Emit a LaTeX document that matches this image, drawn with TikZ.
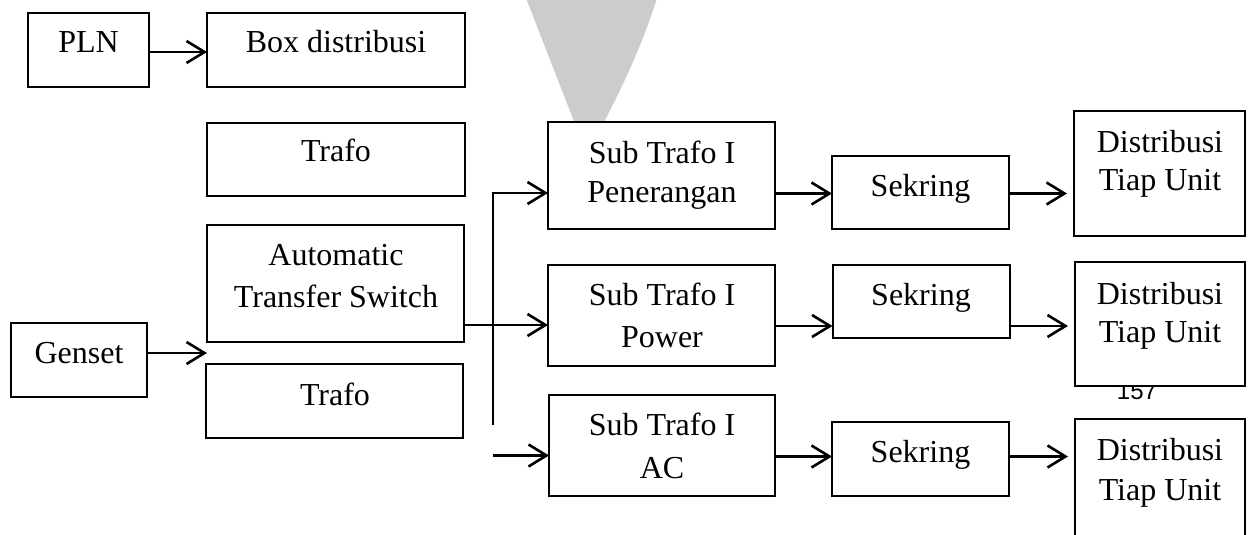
\documentclass[tikz,border=0pt]{standalone}
\usepackage{fontspec}
\setmainfont{Liberation Serif}
\newfontfamily\pagenumfont{Liberation Sans}
\usetikzlibrary{arrows.meta}

\begin{document}
\begin{tikzpicture}[x=0.5pt,y=-0.5pt,
  box/.style={draw, line width=1pt, fill=white, inner sep=0pt, outer sep=0pt},
  lbl/.style={inner sep=0pt, anchor=base, font=\fontsize{16pt}{19pt}\selectfont},
  arr/.style={line width=1.3pt, -{Straight Barb[length=9pt,width=11pt]}},
  gaparr/.style={arr, shorten >=3.5pt}]
\useasboundingbox (0,0) rectangle (1248,535);
\clip (0,0) rectangle (1248,535);

% light grey funnel in the background
\fill[gray!40] (526,-2) -- (657,-2) .. controls (644,40) and (625,82) .. (603,124)
  -- (575,124) -- cycle;

% page number, partly hidden behind the box above it
\node[inner sep=0pt, anchor=base, font=\pagenumfont\fontsize{12pt}{14pt}\selectfont] (pg) at (1137,399) {157};

% boxes
\node[box, minimum width=60.5pt, minimum height=37pt] (pln) at (88.5,50) {};
\node[box, minimum width=129pt, minimum height=37pt] (boxd) at (336,50) {};
\node[box, minimum width=129pt, minimum height=36.5pt] (trafoA) at (336,159.5) {};
\node[box, minimum width=128.5pt, minimum height=58.5pt] (ats) at (335.5,283.5) {};
\node[box, minimum width=128.5pt, minimum height=37pt] (trafoB) at (334.5,401) {};
\node[box, minimum width=68pt, minimum height=37pt] (genset) at (79,360) {};
\node[box, minimum width=113.5pt, minimum height=53.5pt] (subp) at (661.5,175.5) {};
\node[box, minimum width=113.5pt, minimum height=50.5pt] (subpow) at (661.5,315.5) {};
\node[box, minimum width=113pt, minimum height=50.5pt] (subac) at (662,445.5) {};
\node[box, minimum width=88.5pt, minimum height=36.5pt] (sek1) at (920.5,192.5) {};
\node[box, minimum width=88.5pt, minimum height=36.5pt] (sek2) at (921,301.5) {};
\node[box, minimum width=88.5pt, minimum height=37pt] (sek3) at (920.5,459) {};
\node[box, minimum width=85.5pt, minimum height=62.5pt] (dist1) at (1159.5,173.5) {};
\node[box, minimum width=85pt, minimum height=62pt] (dist2) at (1160,324) {};
\node[box, minimum width=85pt, minimum height=62.5pt] (dist3) at (1160,481.5) {};

% labels
\node[lbl] (plnT) at (88.5,53) {PLN};
\node[lbl] (boxdT) at (336,53) {Box distribusi};
\node[lbl] (trafoAT) at (336,162) {Trafo};
\node[lbl] (atsT1) at (336,265) {Automatic};
\node[lbl] (atsT2) at (336,307) {Transfer Switch};
\node[lbl] (trafoBT) at (335,405) {Trafo};
\node[lbl] (gensetT) at (79,363) {Genset};
\node[lbl] (subpT1) at (662,163) {Sub Trafo I};
\node[lbl] (subpT2) at (662,202) {Penerangan};
\node[lbl] (subpowT1) at (662,305) {Sub Trafo I};
\node[lbl] (subpowT2) at (662,347) {Power};
\node[lbl] (subacT1) at (662,435) {Sub Trafo I};
\node[lbl] (subacT2) at (662,478) {AC};
\node[lbl] (sek1T) at (920.5,196.5) {Sekring};
\node[lbl] (sek2T) at (921,305) {Sekring};
\node[lbl] (sek3T) at (920.5,462) {Sekring};
\node[lbl] (dist1T1) at (1160,153) {Distribusi};
\node[lbl] (dist1T2) at (1160,191) {Tiap Unit};
\node[lbl] (dist2T1) at (1160,304) {Distribusi};
\node[lbl] (dist2T2) at (1160,342) {Tiap Unit};
\node[lbl] (dist3T1) at (1160,460) {Distribusi};
\node[lbl] (dist3T2) at (1160,500) {Tiap Unit};

% connector rows and bus points
\coordinate (r1) at (0,193.5);
\coordinate (r2) at (0,326);
\coordinate (r3) at (0,456.5);
\coordinate (busTop) at (493,193);
\coordinate (busBot) at (493,425);
\coordinate (acIn) at (493,455.5);
\coordinate (jPow) at (493,325);
\coordinate (gin) at (207,353);

% connectors
\draw[arr] ([yshift=-1pt]pln.east) -- ([yshift=-1pt]boxd.west);
\draw[arr] (genset.east |- gin) -- (gin);
\draw[arr] (ats.east |- jPow) -- (subpow.west |- jPow);
\draw[arr] (busBot) -- (busTop) -- (subp.west |- busTop);
\draw[arr] (acIn) -- (subac.west |- acIn);
\draw[arr] (subp.east |- r1) -- (sek1.west |- r1);
\draw[gaparr] (sek1.east |- r1) -- (dist1.west |- r1);
\draw[arr] (subpow.east |- r2) -- (sek2.west |- r2);
\draw[gaparr] (sek2.east |- r2) -- (dist2.west |- r2);
\draw[arr] (subac.east |- r3) -- (sek3.west |- r3);
\draw[gaparr] (sek3.east |- r3) -- (dist3.west |- r3);
\end{tikzpicture}
\end{document}
